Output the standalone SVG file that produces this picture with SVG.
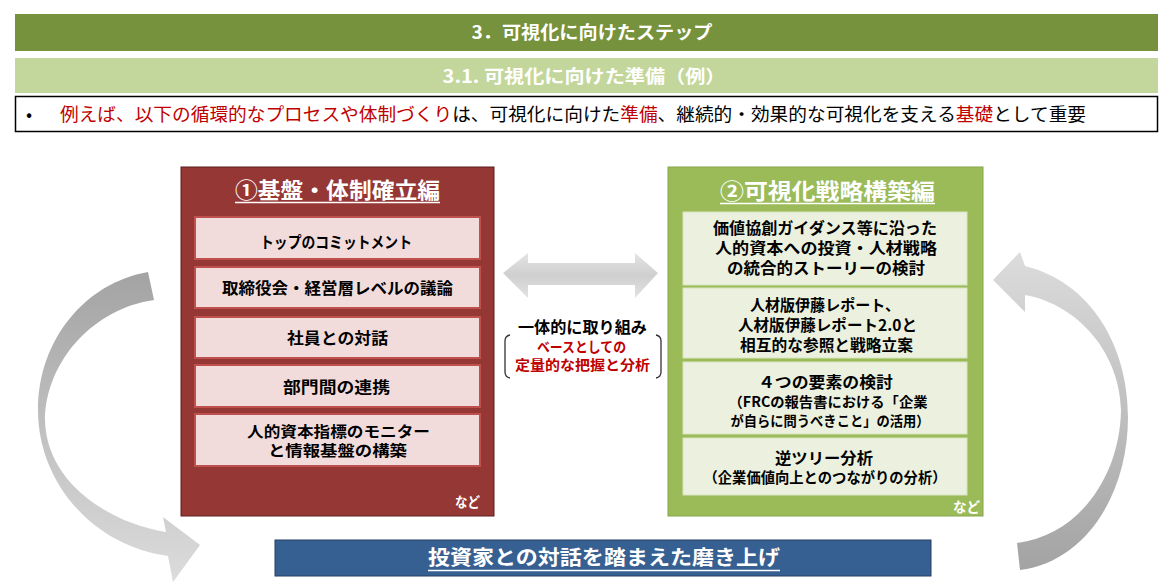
<svg xmlns="http://www.w3.org/2000/svg" width="1170" height="587" viewBox="0 0 1170 587">
<style>
.t{font-family:"Noto Sans CJK JP","Noto Sans",sans-serif;font-weight:bold;}
.n{font-family:"Noto Sans CJK JP","Noto Sans",sans-serif;font-weight:normal;}
.w{fill:#FFFFFF;}
.k{fill:#000000;}
.r{fill:#C00000;}
.lbox{fill:#F2DCDB;stroke:#C0504D;stroke-width:2;}
.gbox{fill:#EBF1DE;stroke:#D7E4BD;stroke-width:1;}
.ul{stroke:#FFFFFF;stroke-width:1.5;}
</style>
<defs>
<linearGradient id="gDown" x1="0" y1="0" x2="0" y2="1">
<stop offset="0" stop-color="#A3A3A3"/>
<stop offset="1" stop-color="#DCDCDC"/>
</linearGradient>
<linearGradient id="gUp" x1="0" y1="0" x2="0" y2="1">
<stop offset="0" stop-color="#DCDCDC"/>
<stop offset="1" stop-color="#A3A3A3"/>
</linearGradient>
<linearGradient id="gMid" x1="0" y1="0" x2="0" y2="1">
<stop offset="0" stop-color="#E4E4E4"/>
<stop offset="0.5" stop-color="#CFCFCF"/>
<stop offset="1" stop-color="#E2E2E2"/>
</linearGradient>
</defs>

<g id="header-step">
<rect x="15" y="14" width="1143" height="37" fill="#76923C"/>
<text class="t w" x="592" y="38.5" font-size="18" text-anchor="middle" textLength="241" lengthAdjust="spacingAndGlyphs">3．可視化に向けたステップ</text>
</g>

<g id="header-prep">
<rect x="15" y="58" width="1143" height="35" fill="#C3D69B"/>
<text class="t w" x="584" y="82.5" font-size="18" text-anchor="middle" textLength="283" lengthAdjust="spacingAndGlyphs">3.1. 可視化に向けた準備（例）</text>
</g>

<g id="statement">
<rect x="15.5" y="96.5" width="1142" height="35" fill="#FFFFFF" stroke="#000000" stroke-width="1.5"/>
<text class="n k" x="26" y="120.5" font-size="18">•</text>
<text class="n k" x="60" y="120.5" font-size="18" textLength="1026" lengthAdjust="spacingAndGlyphs"><tspan class="r">例えば、以下の循環的なプロセスや体制づくり</tspan>は、可視化に向けた<tspan class="r">準備</tspan>、継続的・効果的な可視化を支える<tspan class="r">基礎</tspan>として重要</text>
</g>

<g id="connectors">
<path d="M148,272 C85,283 38,340 38,410 C38,480 90,545 168,556 L173,582 L200,545 L163,517 L166,532 C105,522 46,480 45,420 C46,360 95,308 154,300 Z" fill="url(#gDown)"/>
<path d="M1020,570 C1085,562 1128,495 1128,417 C1128,345 1090,282 1025,266 L1020,252 L993,280 L1025,312 L1025,295 C1080,305 1120,355 1121,410 C1120,475 1080,535 1017,543 Z" fill="url(#gUp)"/>
<path d="M503,273 L528,253 L528,263 L635,263 L635,253 L658,273 L635,298 L635,285 L528,285 L528,298 Z" fill="url(#gMid)"/>
</g>

<g id="panel-foundation">
<rect x="181" y="167" width="313" height="349" fill="#953735" stroke="#5C1F1E" stroke-width="1"/>
<text class="t w" x="337.5" y="198" font-size="22" text-anchor="middle" textLength="205" lengthAdjust="spacingAndGlyphs">①基盤・体制確立編</text>
<line class="ul" x1="235" y1="202.5" x2="440" y2="202.5"/>
<g id="f-top">
<rect class="lbox" x="195" y="217" width="285" height="42"/>
<text class="t k" x="336" y="247.8" font-size="16" text-anchor="middle" textLength="152" lengthAdjust="spacingAndGlyphs">トップのコミットメント</text>
</g>
<g id="f-board">
<rect class="lbox" x="195" y="267" width="285" height="41"/>
<text class="t k" x="337.5" y="293.8" font-size="16" text-anchor="middle" textLength="231" lengthAdjust="spacingAndGlyphs">取締役会・経営層レベルの議論</text>
</g>
<g id="f-employee">
<rect class="lbox" x="195" y="317" width="285" height="41"/>
<text class="t k" x="337.5" y="343.8" font-size="16" text-anchor="middle" textLength="101" lengthAdjust="spacingAndGlyphs">社員との対話</text>
</g>
<g id="f-dept">
<rect class="lbox" x="195" y="365" width="285" height="42"/>
<text class="t k" x="336.5" y="392.8" font-size="16" text-anchor="middle" textLength="107" lengthAdjust="spacingAndGlyphs">部門間の連携</text>
</g>
<g id="f-monitor">
<rect class="lbox" x="195" y="414" width="285" height="52"/>
<text class="t k" x="338.5" y="436.5" font-size="15" text-anchor="middle" textLength="183" lengthAdjust="spacingAndGlyphs">人的資本指標のモニター</text>
<text class="t k" x="337.5" y="455.5" font-size="15" text-anchor="middle" textLength="139" lengthAdjust="spacingAndGlyphs">と情報基盤の構築</text>
</g>
<text class="t w" x="467.5" y="507" font-size="14" text-anchor="middle" textLength="25" lengthAdjust="spacingAndGlyphs">など</text>
</g>

<g id="middle-label">
<text class="t k" x="582.5" y="333" font-size="16" text-anchor="middle" textLength="129" lengthAdjust="spacingAndGlyphs">一体的に取り組み</text>
<path d="M510,335 Q505,336 505,341 L505,372 Q505,377 510,378" fill="none" stroke="#333333" stroke-width="1.3"/>
<path d="M656,335 Q661,336 661,341 L661,372 Q661,377 656,378" fill="none" stroke="#333333" stroke-width="1.3"/>
<text class="t r" x="581.5" y="352" font-size="14" text-anchor="middle" textLength="89" lengthAdjust="spacingAndGlyphs">ベースとしての</text>
<text class="t r" x="582.5" y="370" font-size="14" text-anchor="middle" textLength="135" lengthAdjust="spacingAndGlyphs">定量的な把握と分析</text>
</g>

<g id="panel-strategy">
<rect x="668" y="167" width="315" height="349" fill="#9BBB59" stroke="#87A54A" stroke-width="1"/>
<text class="t w" x="827.5" y="199" font-size="22" text-anchor="middle" textLength="215" lengthAdjust="spacingAndGlyphs">②可視化戦略構築編</text>
<line class="ul" x1="720" y1="203.5" x2="935" y2="203.5"/>
<g id="s-story">
<rect class="gbox" x="683" y="212" width="284" height="73"/>
<text class="t k" x="825" y="233.6" font-size="15.5" text-anchor="middle" textLength="224" lengthAdjust="spacingAndGlyphs">価値協創ガイダンス等に沿った</text>
<text class="t k" x="826" y="253.6" font-size="15.5" text-anchor="middle" textLength="222" lengthAdjust="spacingAndGlyphs">人的資本への投資・人材戦略</text>
<text class="t k" x="826" y="273.6" font-size="15.5" text-anchor="middle" textLength="198" lengthAdjust="spacingAndGlyphs">の統合的ストーリーの検討</text>
</g>
<g id="s-ito">
<rect class="gbox" x="683" y="288" width="284" height="70"/>
<text class="t k" x="750" y="310.6" font-size="15.5" textLength="150" lengthAdjust="spacingAndGlyphs">人材版伊藤レポート、</text>
<text class="t k" x="827.5" y="330.6" font-size="15.5" text-anchor="middle" textLength="179" lengthAdjust="spacingAndGlyphs">人材版伊藤レポート2.0と</text>
<text class="t k" x="826.5" y="350.6" font-size="15.5" text-anchor="middle" textLength="173" lengthAdjust="spacingAndGlyphs">相互的な参照と戦略立案</text>
</g>
<g id="s-frc">
<rect class="gbox" x="683" y="362" width="284" height="72"/>
<text class="t k" x="825.5" y="387.6" font-size="15.5" text-anchor="middle" textLength="135" lengthAdjust="spacingAndGlyphs">４つの要素の検討</text>
<text class="t k" x="828" y="406.5" font-size="14" text-anchor="middle" textLength="199" lengthAdjust="spacingAndGlyphs">（FRCの報告書における「企業</text>
<text class="t k" x="830" y="425.5" font-size="14" text-anchor="middle" textLength="199" lengthAdjust="spacingAndGlyphs">が自らに問うべきこと」の活用）</text>
</g>
<g id="s-tree">
<rect class="gbox" x="683" y="438" width="284" height="57"/>
<text class="t k" x="824" y="463.6" font-size="15.5" text-anchor="middle" textLength="98" lengthAdjust="spacingAndGlyphs">逆ツリー分析</text>
<text class="t k" x="825" y="483.2" font-size="14.5" text-anchor="middle" textLength="243" lengthAdjust="spacingAndGlyphs">（企業価値向上とのつながりの分析）</text>
</g>
<text class="t w" x="966.5" y="512" font-size="14" text-anchor="middle" textLength="27" lengthAdjust="spacingAndGlyphs">など</text>
</g>

<g id="investor-dialogue">
<rect x="275" y="540" width="656" height="36" fill="#376092" stroke="#243F60" stroke-width="1"/>
<text class="t w" x="604" y="565" font-size="20" text-anchor="middle" textLength="352" lengthAdjust="spacingAndGlyphs">投資家との対話を踏まえた磨き上げ</text>
<line class="ul" x1="428" y1="570.5" x2="780" y2="570.5"/>
</g>
</svg>
